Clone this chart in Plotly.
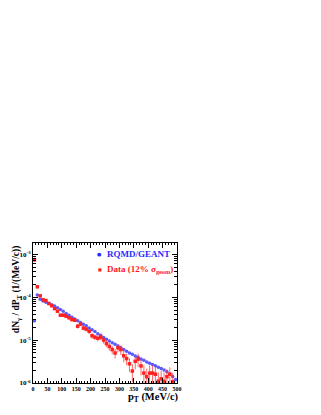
import plotly.graph_objects as go

# p_T bin centres (MeV/c)
pt_sim = [5, 15, 25, 35, 45, 55, 65, 75, 85, 95, 105, 115, 125, 135, 145, 155, 165, 175,
          185, 195, 205, 215, 225, 235, 245, 255, 265, 275, 285, 295, 305, 315, 325, 335,
          345, 355, 365, 375, 385, 395, 405, 415, 425, 435, 445, 455, 465, 475, 485, 495]
# RQMD/GEANT yield, dN/dpT
y_sim = [2.82e-5, 1.12e-4, 8.91e-5, 8.13e-5, 7.59e-5, 7.08e-5, 6.61e-5, 6.17e-5, 5.62e-5,
         5.13e-5, 4.68e-5, 4.17e-5, 3.80e-5, 3.39e-5, 3.09e-5, 2.82e-5, 2.57e-5, 2.34e-5,
         2.14e-5, 1.91e-5, 1.74e-5, 1.58e-5, 1.41e-5, 1.29e-5, 1.15e-5, 1.05e-5, 9.55e-6,
         8.71e-6, 7.94e-6, 7.24e-6, 6.61e-6, 6.03e-6, 5.50e-6, 5.01e-6, 4.68e-6, 4.27e-6,
         3.98e-6, 3.63e-6, 3.39e-6, 3.09e-6, 2.88e-6, 2.69e-6, 2.51e-6, 2.34e-6, 2.19e-6,
         2.00e-6, 1.82e-6, 1.62e-6, 1.41e-6, 1.20e-6]

pt_data = [5, 15, 25, 35, 45, 55, 65, 75, 85, 95, 105, 115, 125, 135, 145, 155, 165, 175,
           185, 195, 205, 215, 225, 235, 245, 255, 265, 275, 285, 295, 305, 315, 325, 335,
           345, 355, 365, 375, 385, 395, 405, 415, 425, 435, 445, 455, 465, 475, 485]
# Data (12% sigma_geom)
y_data = [7.4e-4, 1.74e-4, 1.07e-4, 8.7e-5, 8.3e-5, 7.1e-5, 6.3e-5, 5.4e-5, 4.7e-5, 3.8e-5,
          3.8e-5, 3.6e-5, 3.3e-5, 3.0e-5, 2.9e-5, 2.1e-5, 2.35e-5, 1.9e-5, 1.8e-5, 1.6e-5,
          1.26e-5, 1.17e-5, 1.1e-5, 1.17e-5, 1.0e-5, 8.3e-6, 7.1e-6, 6.0e-6, 5.0e-6, 6.6e-6,
          6.0e-6, 4.3e-6, 3.7e-6, 2.8e-6, 1.9e-6, 3.2e-6, 3.6e-6, 2.5e-6, 1.7e-6, 1.4e-6,
          1.7e-6, 1.7e-6, 1.6e-6, 1.1e-6, 1.25e-6, 1.1e-6, 1.4e-6, 1.6e-6, 1.07e-6]
# relative errors of the data points
rel_err = [0.12, 0.05, 0.05, 0.05, 0.05, 0.05, 0.06, 0.06, 0.06, 0.07, 0.07, 0.08, 0.08,
           0.09, 0.09, 0.12, 0.1, 0.12, 0.12, 0.13, 0.15, 0.15, 0.15, 0.15, 0.17, 0.18,
           0.2, 0.22, 0.25, 0.22, 0.25, 0.3, 0.3, 0.35, 0.45, 0.35, 0.35, 0.4, 0.5, 0.55,
           0.5, 0.5, 0.5, 0.6, 0.55, 0.6, 0.5, 0.45, 0.6]

y_ticks = [1e-6, 1e-5, 1e-4, 1e-3]
y_ticktext = ["10<sup>-6</sup>", "10<sup>-5</sup>", "10<sup>-4</sup>", "10<sup>-3</sup>"]
y_minor = [m * 10.0 ** e for e in range(-6, -2) for m in range(2, 10)]

serif = "Liberation Serif"
blue = "#2a2aff"
red = "#ff1a1a"
err = [v * r for v, r in zip(y_data, rel_err)]

fig = go.Figure()
fig.add_trace(go.Scatter(
    x=pt_sim, y=y_sim, mode="markers", name="RQMD/GEANT",
    marker=dict(symbol="circle", size=3.5, color="rgba(60,60,255,0.85)", line=dict(width=0)),
))
fig.add_trace(go.Scatter(
    x=pt_data, y=y_data, mode="markers", name="Data (12% σgeom)",
    marker=dict(symbol="square", size=3.5, color="#ff2020", line=dict(width=0)),
    error_y=dict(type="data", array=err, color="rgba(255,40,40,0.7)", thickness=1, width=0),
    error_x=dict(type="constant", value=4, color="#ff2020", thickness=1, width=0),
))

# ROOT-like compact legend drawn with annotations
legend_rows = [("●", blue, 5, "RQMD/GEANT", 0.921),
               ("■", red, 4, "Data (12% σ<sub>geom</sub>)", 0.814)]
annotations = []
for glyph, col, gsize, label, ypos in legend_rows:
    annotations.append(dict(text=glyph, xref="paper", yref="paper", x=0.463, y=ypos,
                            xanchor="center", yanchor="middle", showarrow=False,
                            font=dict(family="DejaVu Sans", size=gsize, color=col)))
    annotations.append(dict(text="<b>" + label + "</b>", xref="paper", yref="paper",
                            x=0.497, y=ypos, xanchor="left", yanchor="middle",
                            showarrow=False, font=dict(family=serif, size=9, color=col)))

annotations.append(dict(text="<b>p<sub>T</sub> (MeV/c)</b>", xref="paper", yref="paper",
                        x=1.03, y=-0.1, xanchor="right", yanchor="middle", showarrow=False,
                        font=dict(family=serif, size=10.5)))
annotations.append(dict(text="<b>dN<sub>γ</sub> / dP<sub>T</sub> (1/(MeV/c))</b>",
                        xref="paper", yref="paper", x=-0.117, y=1.0, xanchor="center",
                        yanchor="top", textangle=-90, showarrow=False,
                        font=dict(family=serif, size=9.5)))

# the page body has an 8px margin, so the figure is 8px smaller and margins shifted
fig.update_layout(
    width=313, height=407,
    margin=dict(l=22, r=144, t=235, b=32),
    paper_bgcolor="white", plot_bgcolor="white",
    font=dict(family=serif, size=7, color="black"),
    showlegend=False,
    xaxis=dict(
        range=[0, 500], showgrid=False, zeroline=False, showline=True, linecolor="black",
        linewidth=1, mirror="ticks", ticks="inside", ticklen=5, tickcolor="black",
        dtick=50, tick0=0, tickfont=dict(family=serif, size=6, weight="bold"),
        minor=dict(ticks="inside", ticklen=2, dtick=10, tickcolor="black"),
    ),
    yaxis=dict(
        type="log", range=[-6, -2.74], showgrid=False, zeroline=False, showline=True,
        linecolor="black", linewidth=1, mirror="ticks", ticks="inside", ticklen=5,
        tickcolor="black", tickvals=y_ticks, ticktext=y_ticktext,
        tickfont=dict(family=serif, size=7, weight="bold"),
        minor=dict(ticks="inside", ticklen=3, tickcolor="black", showgrid=False,
                   tickmode="array", tickvals=y_minor),
    ),
    annotations=annotations,
)

fig.write_html("out.html")
